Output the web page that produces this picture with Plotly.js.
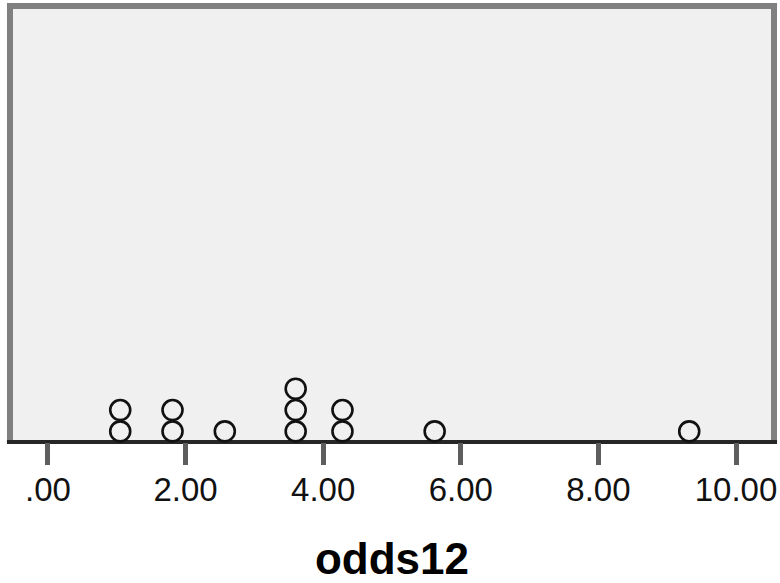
<!DOCTYPE html>
<html>
<head>
<meta charset="utf-8">
<script src="https://cdn.plot.ly/plotly-3.0.1.min.js"></script>
<style>html,body{margin:0;padding:0;background:#fff;}#chart{width:780px;height:583px;}</style>
</head>
<body>
<div id="chart"></div>
<script>
// odds12 values (one per dot)
var odds12 = [1.05, 1.05, 1.81, 1.81, 2.57, 3.60, 3.60, 3.60, 4.28, 4.28, 5.62, 9.32];
var tickVals = [0, 2, 4, 6, 8, 10];
var tickText = ['.00', '2.00', '4.00', '6.00', '8.00', '10.00'];
var axisTitle = 'odds12';

// stack position of each dot = count of earlier equal values
var seen = {};
var stackY = odds12.map(function (v) {
  var k = v.toFixed(2);
  seen[k] = (seen[k] || 0) + 1;
  return seen[k] - 0.5;
});

var trace = {
  type: 'scatter',
  mode: 'markers',
  x: odds12,
  y: stackY,
  cliponaxis: false,
  hoverinfo: 'x',
  marker: {symbol: 'circle-open', size: 20, color: '#111', line: {width: 2.6, color: '#111'}}
};

var layout = {
  width: 780, height: 583,
  margin: {l: 10, r: 6, t: 6, b: 141, pad: 0},
  paper_bgcolor: '#ffffff',
  plot_bgcolor: '#f0f0f0',
  showlegend: false,
  xaxis: {
    range: [-0.552, 10.552],
    tickvals: tickVals, ticktext: tickText,
    ticks: 'outside', ticklen: 22, tickwidth: 5, tickcolor: '#5e5e5e',
    ticklabelstandoff: -4,
    showgrid: false, zeroline: false, showline: false,
    tickfont: {family: 'Liberation Sans, Arial, sans-serif', size: 33, color: '#111'},
    title: {text: axisTitle, standoff: 36, font: {family: 'Liberation Sans, Arial, sans-serif', size: 44, color: '#000', weight: 'bold'}}
  },
  yaxis: {range: [0, 20.47], visible: false, showgrid: false, zeroline: false, fixedrange: true},
  shapes: [
    {type: 'line', xref: 'paper', yref: 'paper', x0: 0, x1: 0, y0: 0, y1: 1, line: {color: '#808080', width: 6}, layer: 'below'},
    {type: 'line', xref: 'paper', yref: 'paper', x0: 1, x1: 1, y0: 0, y1: 1, line: {color: '#808080', width: 6}, layer: 'below'},
    {type: 'line', xref: 'paper', yref: 'paper', x0: -0.004, x1: 1.004, y0: 1, y1: 1, line: {color: '#808080', width: 6}, layer: 'below'},
    {type: 'line', xref: 'paper', yref: 'paper', x0: -0.004, x1: 1.004, y0: 0, y1: 0, line: {color: '#262626', width: 4}, layer: 'below'}
  ]
};

Plotly.newPlot('chart', [trace], layout, {displayModeBar: false, staticPlot: true});
</script>
</body>
</html>
